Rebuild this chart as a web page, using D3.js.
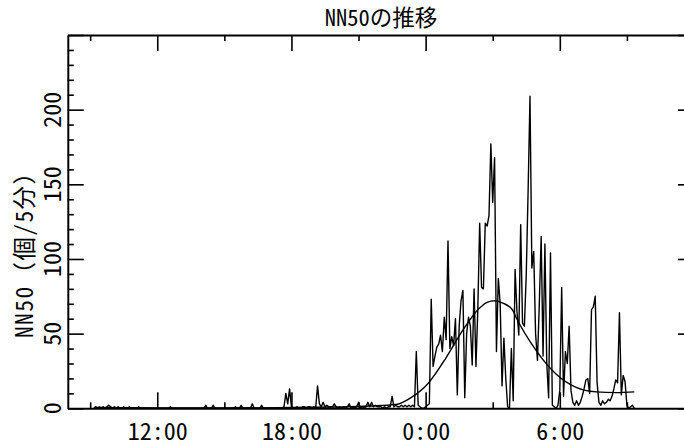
<!DOCTYPE html>
<html><head><meta charset="utf-8">
<script src="https://cdn.jsdelivr.net/npm/d3@7"></script>
<style>
html,body{margin:0;padding:0;background:#fff;}
text{font-family:"Noto Sans Mono CJK JP","Noto Sans CJK JP",sans-serif;fill:#000;}
</style></head>
<body><svg id="c" width="684" height="447"></svg>
<script>
// ---- data ----
const chartTitle = "NN50の推移";
const yTitle = "NN50（個/5分）";
const startHour = 9 + 10/60;       // first sample 9:10
const stepHour = 5/60;             // 5-minute samples
const vals09 = [0,1,0,1,0,1,0,1,2,1];
const vals10 = [0,1,0,1,0,0,1,0,0,1,0,0];
const vals11 = [0,0,1,0,0,0,0,0,0,0,0,0];
const vals12 = [0,0,0,0,0,0,0,1,0,0,0,0];
const vals13 = [0,0,0,0,0,0,0,0,0,0,0,0];
const vals14 = [0,0,2,0,0,0,2,0,0,0,0,0];
const vals15 = [0,0,0,0,0,0,1,0,0,2,0,0];
const vals16 = [0,0,0,3,0,0,0,0,2,0,0,0];
const vals17 = [0,0,0,0,0,0,0,0,1,10,3,13];
const vals18 = [1,0,0,1,0,0,1,1,0,1,1,0];
const vals19 = [1,0,15,3,1,4,1,2,1,1,1,3];
const vals20 = [1,0,1,0,1,0,1,3,0,1,0,1];
const vals21 = [4,0,1,0,1,4,1,4,1,2,1,1];
const vals22 = [1,0,1,0,1,1,8,1,2,1,1,2];
const vals23 = [1,2,1,2,1,2,1,38,2,1,0,0];
const vals00 = [1,2,3,73,28,35,41,43,49,38,61,46];
const vals01 = [112,40,48,42,60,9,55,72,79,7,50,61];
const vals02 = [55,29,80,28,66,124,81,80,124,122,129,177];
const vals03 = [138,168,38,87,70,15,47,20,1,0,40,5];
const vals04 = [93,65,49,123,57,55,90,146,209,94,105,50];
const vals05 = [32,70,115,35,110,30,7,104,2,1,0,2];
const vals06 = [12,81,8,38,30,55,12,4,2,5,2,4];
const vals07 = [8,13,19,20,10,66,68,75,17,4,2,5];
const vals08 = [3,4,6,5,8,13,19,17,64,9,22,18];
const vals09b = [2,0,1,2,0];

// fitted curve (hour of day, continuing past 24)
const fitHours  = [9.17, 12, 15, 18, 20, 21.5, 22.67, 23.33, 24.13, 24.92, 25.65, 26.4, 26.75, 27.07, 27.45, 27.88, 28.04, 28.93, 29.83, 30.73, 31.62, 32.52, 33.33];
const fitValues = [0.6, 0.3, 0.2, 0.5, 0.9, 1.5, 2.5, 7, 17, 34, 52, 67, 71, 72, 70.5, 66, 61, 39, 23, 14, 11, 10.5, 11];

const xDomain = [8, 36];
const xMajorHours = [12, 18, 24, 30, 36];
const xMajorLabels = ["12:00", "18:00", "0:00", "6:00", ""];
const xMinorHours = [9, 15, 21, 27, 33];
const yDomain = [0, 250];
const yMajor = [0, 50, 100, 150, 200, 250];
const yLabels = ["0", "50", "100", "150", "200", ""];
const yMinor = [10,20,30,40,60,70,80,90,110,120,130,140,160,170,180,190,210,220,230,240];

// ---- build ----
const values = [].concat(vals09,vals10,vals11,vals12,vals13,vals14,vals15,vals16,vals17,vals18,vals19,vals20,vals21,vals22,vals23,vals00,vals01,vals02,vals03,vals04,vals05,vals06,vals07,vals08,vals09b);
const series = values.map((v,i)=>({h:startHour + i*stepHour, v}));
const fit = fitHours.map((h,i)=>({h, v:fitValues[i]}));

const L = 67.8, R = 694.0, T = 35, B = 408.3;
const x = d3.scaleLinear().domain(xDomain).range([L, R]);
const y = d3.scaleLinear().domain(yDomain).range([B, T]);
const svg = d3.select("#c");

const line = d3.line().x(d=>x(d.h)).y(d=>y(d.v));
svg.append("path").datum(series).attr("d", line)
  .attr("fill","none").attr("stroke","#000").attr("stroke-width",1.4).attr("stroke-linejoin","round");
svg.append("path").datum(fit).attr("d", line.curve(d3.curveMonotoneX))
  .attr("fill","none").attr("stroke","#000").attr("stroke-width",1.4);

const axStyle = g => { g.select(".domain").attr("stroke-width",2); g.selectAll(".tick line").attr("stroke-width",1.6); };
// bottom
svg.append("g").attr("transform",`translate(0,${B})`)
  .call(d3.axisBottom(x).tickValues(xMajorHours).tickSize(-16).tickSizeOuter(0).tickPadding(15)
        .tickFormat((d,i)=>xMajorLabels[i]))
  .call(axStyle).call(g=>g.selectAll("text").attr("font-size",24).style("font-family",null));
svg.append("g").attr("transform",`translate(0,${B})`)
  .call(d3.axisBottom(x).tickValues(xMinorHours).tickSize(-6).tickSizeOuter(0).tickFormat(""))
  .call(axStyle).call(g=>g.select(".domain").remove());
// top
svg.append("g").attr("transform",`translate(0,${T})`)
  .call(d3.axisTop(x).tickValues(xMajorHours).tickSize(-16).tickSizeOuter(0).tickFormat(""))
  .call(axStyle);
svg.append("g").attr("transform",`translate(0,${T})`)
  .call(d3.axisTop(x).tickValues(xMinorHours).tickSize(-6).tickSizeOuter(0).tickFormat(""))
  .call(axStyle).call(g=>g.select(".domain").remove());
// left
svg.append("g").attr("transform",`translate(${L},0)`)
  .call(d3.axisLeft(y).tickValues(yMajor).tickSize(-16).tickSizeOuter(0).tickFormat(""))
  .call(axStyle);
svg.append("g").attr("transform",`translate(${L},0)`)
  .call(d3.axisLeft(y).tickValues(yMinor).tickSize(-6).tickSizeOuter(0).tickFormat(""))
  .call(axStyle).call(g=>g.select(".domain").remove());
// right
svg.append("g").attr("transform",`translate(${R},0)`)
  .call(d3.axisRight(y).tickValues(yMajor).tickSize(-16).tickSizeOuter(0).tickFormat(""))
  .call(axStyle);
svg.append("g").attr("transform",`translate(${R},0)`)
  .call(d3.axisRight(y).tickValues(yMinor).tickSize(-6).tickSizeOuter(0).tickFormat(""))
  .call(axStyle).call(g=>g.select(".domain").remove());
svg.selectAll(".tick line, .domain").attr("stroke","#000");

// y tick labels (rotated)
svg.append("g").selectAll("text").data(yMajor.filter((d,i)=>yLabels[i]!==""))
  .join("text")
  .attr("transform", d=>`translate(61,${y(d)}) rotate(-90)`)
  .attr("text-anchor","middle").attr("font-size",24)
  .text(d=>yLabels[yMajor.indexOf(d)]);

// y title
svg.append("text").attr("transform",`translate(33,338) rotate(-90)`)
  .attr("text-anchor","start").attr("font-size",23.5)
  .attr("textLength",177).attr("lengthAdjust","spacing").text(yTitle);

// title
svg.append("text").attr("x",(L+R)/2).attr("y",26).attr("text-anchor","middle")
  .attr("font-size",22.5).text(chartTitle);
</script></body></html>
